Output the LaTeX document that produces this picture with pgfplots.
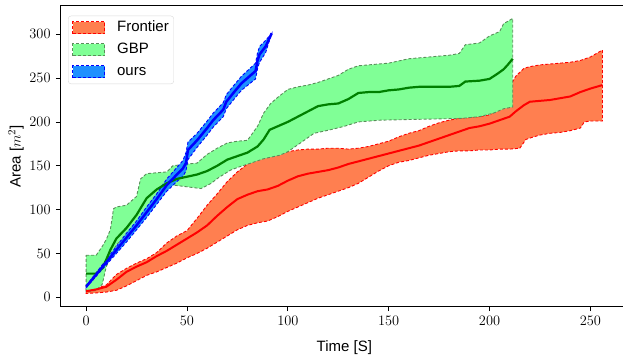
\documentclass[border=0pt]{standalone}
\usepackage{pgfplots}
\pgfplotsset{compat=1.18}
\usepgfplotslibrary{fillbetween}
\usepackage{fontspec}
\setmainfont{Liberation Sans}
\definecolor{fcoral}{RGB}{255,127,80}
\definecolor{gfill}{RGB}{128,255,150}
\definecolor{gedge}{RGB}{90,140,90}
\definecolor{gmean}{RGB}{0,128,0}
\definecolor{bfill}{RGB}{30,144,255}
\begin{document}
\fontsize{15}{18}\selectfont
\begin{tikzpicture}
\begin{axis}[
  scale only axis, width=568pt, height=301pt,
  xmin=-12.8, xmax=268.8, ymin=-10.7, ymax=332.5,
  xtick={0,50,...,250}, ytick={0,50,...,300},
  tick align=outside, tick pos=left, major tick length=4.5pt,
  tick style={black, line width=0.8pt},
  axis line style={line width=0.8pt},
  every tick label/.append style={font=\fontsize{15}{18}\selectfont},
  xlabel={Time [S]}, ylabel={Area [$m^2$]},
  every axis x label/.style={at={(axis description cs:0.5,-0.1366)}, anchor=center, font=\fontsize{15}{18}\selectfont},
  every axis y label/.style={at={(axis description cs:-0.078,0.5)}, rotate=90, anchor=center, font=\fontsize{15}{18}\selectfont},
  legend style={at={(axis description cs:0,1)}, anchor=north west, xshift=7.7pt, yshift=-10pt,
    draw=black!15, rounded corners=3pt, fill=white, inner sep=4pt,
    font=\fontsize{15}{18}\selectfont, row sep=6pt,
    nodes={inner sep=1pt, text height=11pt, text depth=3pt},
    /tikz/every odd column/.append style={column sep=11pt}},
  legend cell align=left,
  legend image code/.code={\draw[sharp corners, #1] (0pt,-6pt) rectangle (32pt,6pt);},
]
\addlegendimage{fill=fcoral, draw=red, dash pattern=on 3pt off 2pt, line width=0.9pt}
\addlegendentry{Frontier}
\addlegendimage{fill=gfill, draw=gedge, dash pattern=on 3pt off 2pt, line width=0.9pt}
\addlegendentry{GBP}
\addlegendimage{fill=bfill, draw=blue, dash pattern=on 3pt off 2pt, line width=0.9pt}
\addlegendentry{ours}

% Frontier
\addplot[name path=fu, draw=none, forget plot] coordinates {(0,9)(5,10)(10,14)(15,26)(20,33)(25,39)(30,44)(35,51)(40,62)(45,70)(50,76)(55,90)(60,105)(65,118)(70,132)(75,143)(80,152)(85,158)(90,162)(95,164)(100,166)(105,168)(110,169)(115,169)(120,170)(125,170)(130,169)(135,170)(140,172)(145,175)(150,178)(155,183)(160,187)(165,190)(170,195)(175,199)(180,202)(185,204)(190,205)(195,206)(200,208)(205,215)(210,240)(213,252)(217,261)(220,263)(225,265)(230,266)(235,267)(240,268)(245,270)(250,274)(253,278)(256,282)};
\addplot[name path=fl, draw=none, forget plot] coordinates {(0,4.5)(5,5)(10,6)(15,8)(20,13)(25,19)(30,25)(35,29)(40,34)(45,39)(50,45)(55,50)(60,56)(65,63)(70,70)(75,77)(80,82)(85,85)(90,87)(95,92)(100,98)(105,103)(110,108)(115,113)(120,117)(125,121)(130,125)(135,130)(140,137)(145,144)(150,150)(155,154)(160,156)(165,159)(170,162)(175,164)(180,166)(185,167)(190,167)(195,168)(200,168)(205,169)(210,169)(215,170)(218,180)(222,183)(225,185)(230,187)(235,188)(240,190)(245,193)(247,200)(250,201)(256,201)};
\addplot[fill=fcoral, draw=red, dash pattern=on 3pt off 2pt, line width=0.9pt, forget plot] fill between[of=fu and fl];
\addplot[red, line width=2pt, forget plot] coordinates {(0,7)(5,9)(10,12)(15,20)(20,29)(25,35)(30,40)(35,47)(40,53)(45,60)(50,67)(55,74)(60,82)(65,93)(70,103)(75,112)(80,117)(85,121)(90,123)(95,127)(100,133)(105,138)(110,141)(115,143)(120,145)(125,148)(130,152)(135,155)(140,158)(145,161)(150,164)(155,167)(160,170)(165,173)(170,177)(175,181)(180,185)(185,189)(190,193)(195,195)(200,198)(205,202)(210,206)(213,212)(217,219)(220,223)(225,224)(230,225)(235,227)(240,229)(245,234)(250,238)(256,242)};

% GBP
\addplot[name path=gu, draw=none, forget plot] coordinates {(0,48)(5,48)(8,58)(10,66)(12,77)(13.6,101)(15,103)(20,105)(25,115)(27,135)(30,141)(35,142)(40,143)(43,150)(50,152)(55,153)(60,163)(65,170)(70,176)(75,178)(80,179)(85,195)(88,210)(91.5,221)(95,228)(100,237)(105,240)(110,242)(115,245)(120,249)(125,253)(130,260)(135,264)(140,265)(150,267)(160,272)(170,274)(180,276)(185,278)(188,288)(195,290)(200,298)(205,303)(207,312)(211.5,318)};
\addplot[name path=gl, draw=none, forget plot] coordinates {(0,6)(5,8)(8,15)(10,35)(15,60)(20,70)(22,77)(27,88)(30,99)(32,109)(37,120)(40,126)(43,128)(50,126)(57,124)(62,130)(66,137)(71.6,145)(75,148)(81.6,153)(88,158)(96,162)(100,166)(105,174)(113,187)(121,191)(128,195)(135,200)(146,202)(166,203)(186,204)(195,206)(202,210)(207,215)(211.5,217)};
\addplot[fill=gfill, draw=gedge, dash pattern=on 3pt off 2pt, line width=0.9pt, forget plot] fill between[of=gu and gl];
\addplot[gmean, line width=2.2pt, forget plot] coordinates {(0,27)(5,27)(8,33)(10,43)(12,54)(15,67)(20,79)(25,94)(30,113)(35,123)(40,130)(45,135)(50,137.5)(55,140)(60,144)(65,150)(70,157)(75,161)(80,165)(85,172)(88,180)(91,191)(95,195)(100,200)(105,206)(110,212)(115,218)(120,220)(125,221)(130,226)(135,233)(140,234)(145,234)(150,236)(155,237)(160,239)(165,240)(170,240)(175,240)(180,240)(185,241)(188,246)(195,247)(200,249)(204,255)(207,260)(209,265)(211.5,272)};

% ours
\addplot[name path=bu, draw=none, forget plot] coordinates {(0,13)(5,28)(10,43)(15,58)(20,73)(25,87)(30,103)(35,118)(40,135)(45,148)(48,156)(49.5,165)(50.5,177)(55,187)(60,201)(63,210)(68,222)(69.5,231)(73,241)(77,252)(84,267)(85,279)(86,286)(89,293)(92,301)};
\addplot[name path=bl, draw=none, forget plot] coordinates {(0,11)(5,24)(10,37)(15,50)(20,63)(25,77)(30,91)(35,106)(40,121)(45,132)(48,138)(49.5,144)(50.5,157)(55,171)(60,185)(63,194)(68,206)(69.5,215)(73,225)(77,236)(84,249)(85,261)(86,268)(89,279)(92,301)};
\addplot[fill=bfill, draw=blue, dash pattern=on 3pt off 2pt, line width=0.9pt, forget plot] fill between[of=bu and bl];
\addplot[blue, line width=2.5pt, forget plot] coordinates {(0,12)(5,26)(10,40)(15,54)(20,68)(25,82)(30,97)(35,112)(40,128)(45,140)(48,147)(49.5,153)(50.5,168)(55,179)(60,193)(63,202)(68,214)(69.5,223)(73,233)(77,244)(84,258)(85,270)(86,277)(89,286)(92,301)};
\end{axis}
\pgfresetboundingbox
\useasboundingbox ([xshift=-60.3pt,yshift=-49.3pt]current axis.south west) rectangle ([xshift=562.7pt,yshift=5.7pt]current axis.north west);
\end{tikzpicture}
\end{document}
